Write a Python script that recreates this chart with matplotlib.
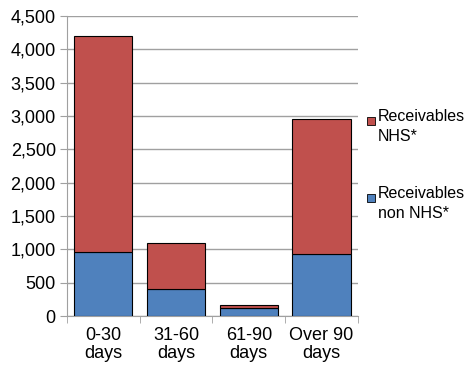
import matplotlib.pyplot as plt
import matplotlib.patches as mpatches
import numpy as np

categories = ['0-30\ndays', '31-60\ndays', '61-90\ndays', 'Over 90\ndays']
non_nhs = [960, 405, 115, 925]
nhs = [3240, 690, 45, 2030]
series_labels = ['Receivables\nNHS*', 'Receivables\nnon NHS*']

red = '#C0504D'
blue = '#4F81BD'
grey = '#A0A0A0'

plt.rcParams['font.family'] = ['Liberation Sans Narrow', 'Liberation Sans', 'DejaVu Sans']
plt.rcParams['font.size'] = 13

fig = plt.figure(figsize=(4.71, 3.78), dpi=100)
ax = fig.add_axes([0.142, 0.164, 0.618, 0.794])

x = np.arange(len(categories))
ax.bar(x, non_nhs, width=0.8, color=blue, edgecolor='black', linewidth=0.8, zorder=3)
ax.bar(x, nhs, bottom=non_nhs, width=0.8, color=red, edgecolor='black', linewidth=0.8, zorder=3)

ax.set_xlim(-0.5, len(categories) - 0.5)
ax.set_ylim(0, 4500)
ax.set_yticks(np.arange(0, 4501, 500))
ax.set_yticklabels([f'{v:,}' for v in range(0, 4501, 500)])
ax.yaxis.grid(True, color=grey, linewidth=1, zorder=0)

ax.set_xticks(x)
ax.set_xticklabels(categories, linespacing=1.05)
ax.set_xticks(np.arange(-0.5, len(categories)), minor=True)
ax.tick_params(axis='x', which='major', length=0, pad=8)
ax.tick_params(axis='x', which='minor', length=5, color=grey)
ax.tick_params(axis='y', length=5, color=grey, pad=3)

for s in ['top', 'right']:
    ax.spines[s].set_visible(False)
for s in ['left', 'bottom']:
    ax.spines[s].set_color(grey)

# legend drawn by hand so the swatch sits on the first text line
for (lbl, col, ytop) in [(series_labels[0], red, 0.682), (series_labels[1], blue, 0.478)]:
    fig.patches.append(mpatches.Rectangle((0.779, ytop - 0.012), 0.017, 0.021,
                                          transform=fig.transFigure, facecolor=col,
                                          edgecolor='black', linewidth=0.6))
    fig.text(0.802, ytop + 0.03, lbl, va='top', ha='left', fontsize=11.5, linespacing=1.4)

fig.savefig('out.png', dpi=100)
